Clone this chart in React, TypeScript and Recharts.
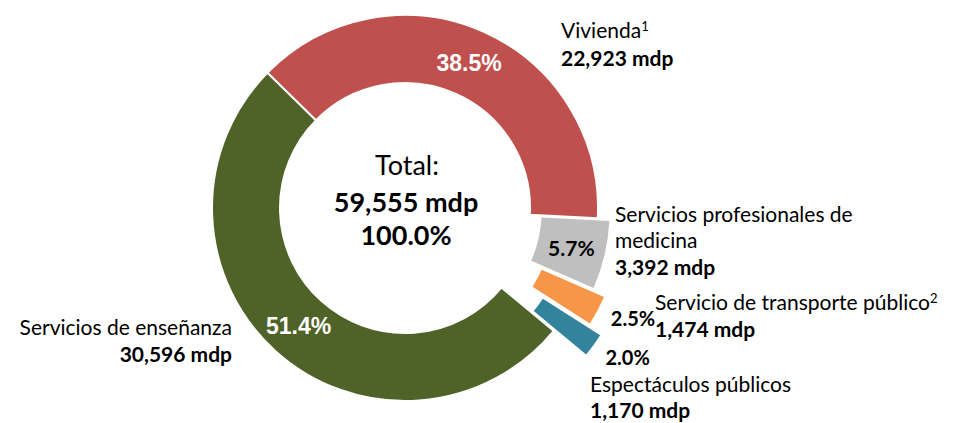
import React from 'react';
import { PieChart, Pie, Cell } from 'recharts';

const categories = [
  'Vivienda',
  'Servicios profesionales de medicina',
  'Servicio de transporte público',
  'Espectáculos públicos',
  'Servicios de enseñanza',
];
const values = [22923, 3392, 1474, 1170, 30596];
const colors = ['#C0504D', '#BFBFBF', '#F79646', '#31849B', '#4F6228'];
// explosion distance (px) for each slice
const explode = [0, 12, 25, 40, 0];

const START = 135.5;
const CX = 400;
const CY = 203;
const INNER = 125;
const OUTER = 193;
const RAD = Math.PI / 180;
const FONT = "Lato, 'Open Sans', sans-serif";

const total = values.reduce((a, b) => a + b, 0);
const chartData = categories.map((name, i) => ({ name, value: values[i] }));
const fmt = (v: number) => v.toLocaleString('en-US') + ' mdp';

const midAngles = values.map((v, i) => {
  const before = values.slice(0, i).reduce((a, b) => a + b, 0);
  return START - ((before + v / 2) / total) * 360;
});

const pctText = (p: number) => (p * 100).toFixed(1) + '%';

// inside labels (white on red / green, dark on gray), outside for thin slices
const makeLabel = (only: number | null) => (props: any) => {
  const { cx, cy, midAngle, innerRadius, outerRadius, percent, index } = props;
  if (only === null && explode[index] > 0) return null;
  if (only !== null && index !== only) return null;
  const outside = index === 2 || index === 3;
  const r = outside ? outerRadius + 35 : (innerRadius + outerRadius) / 2;
  const a = outside ? midAngle + 2.6 : midAngle;
  const x = cx + r * Math.cos(-a * RAD);
  const y = cy + r * Math.sin(-a * RAD);
  const white = index === 0 || index === 4;
  return (
    <text
      key={`lbl-${index}`}
      x={x}
      y={y}
      textAnchor="middle"
      dominantBaseline="central"
      fill={white ? '#ffffff' : '#000000'}
      fontFamily={white ? "'Liberation Sans', Arial, sans-serif" : FONT}
      fontWeight="bold"
      fontSize={white ? 23 : outside ? 20 : 21}
    >
      {pctText(percent)}
    </text>
  );
};

export default function App() {
  return (
    <div style={{ position: 'absolute', left: 0, top: 0, width: 955, height: 423, background: '#fff' }}>
      <PieChart width={955} height={423}>
        <Pie
          data={chartData}
          dataKey="value"
          nameKey="name"
          cx={CX}
          cy={CY}
          innerRadius={INNER}
          outerRadius={OUTER}
          startAngle={START}
          endAngle={START - 360}
          label={makeLabel(null)}
          labelLine={false}
          isAnimationActive={false}
        >
          {chartData.map((d, i) => (
            <Cell
              key={d.name}
              fill={explode[i] > 0 ? 'transparent' : colors[i]}
              stroke={explode[i] > 0 ? 'none' : '#ffffff'}
              strokeWidth={2}
            />
          ))}
        </Pie>
        {explode.map((e, k) =>
          e > 0 ? (
            <Pie
              key={`ex-${k}`}
              data={chartData}
              dataKey="value"
              nameKey="name"
              cx={CX + e * Math.cos(-midAngles[k] * RAD)}
              cy={CY + e * Math.sin(-midAngles[k] * RAD)}
              innerRadius={INNER}
              outerRadius={OUTER}
              startAngle={START}
              endAngle={START - 360}
              label={makeLabel(k)}
              labelLine={false}
              isAnimationActive={false}
            >
              {chartData.map((d, i) => (
                <Cell
                  key={d.name}
                  fill={i === k ? colors[i] : 'transparent'}
                  stroke="none"
                />
              ))}
            </Pie>
          ) : null
        )}
        <g fontFamily={FONT} fill="#000">
          <text x={407} y={175} textAnchor="middle" fontSize={27}>Total:</text>
          <text x={406} y={212} textAnchor="middle" fontSize={27} fontWeight="bold">{fmt(total)}</text>
          <text x={406} y={245} textAnchor="middle" fontSize={27} fontWeight="bold">100.0%</text>

          <text x={561} y={38} fontSize={21}>
            {categories[0]}
            <tspan fontSize={13} dy={-7}>1</tspan>
          </text>
          <text x={561} y={66} fontSize={21} fontWeight="bold">{fmt(values[0])}</text>

          <text x={615} y={222} fontSize={21}>Servicios profesionales de</text>
          <text x={615} y={248} fontSize={21}>medicina</text>
          <text x={615} y={275} fontSize={21} fontWeight="bold">{fmt(values[1])}</text>

          <text x={655} y={310} fontSize={21}>
            {categories[2]}
            <tspan fontSize={13} dy={-7}>2</tspan>
          </text>
          <text x={655} y={337} fontSize={21} fontWeight="bold">{fmt(values[2])}</text>

          <text x={590} y={392} fontSize={21}>{categories[3]}</text>
          <text x={590} y={418} fontSize={21} fontWeight="bold">{fmt(values[3])}</text>

          <text x={232} y={335} fontSize={21} textAnchor="end">{categories[4]}</text>
          <text x={232} y={362} fontSize={21} textAnchor="end" fontWeight="bold">{fmt(values[4])}</text>
        </g>
      </PieChart>
    </div>
  );
}
